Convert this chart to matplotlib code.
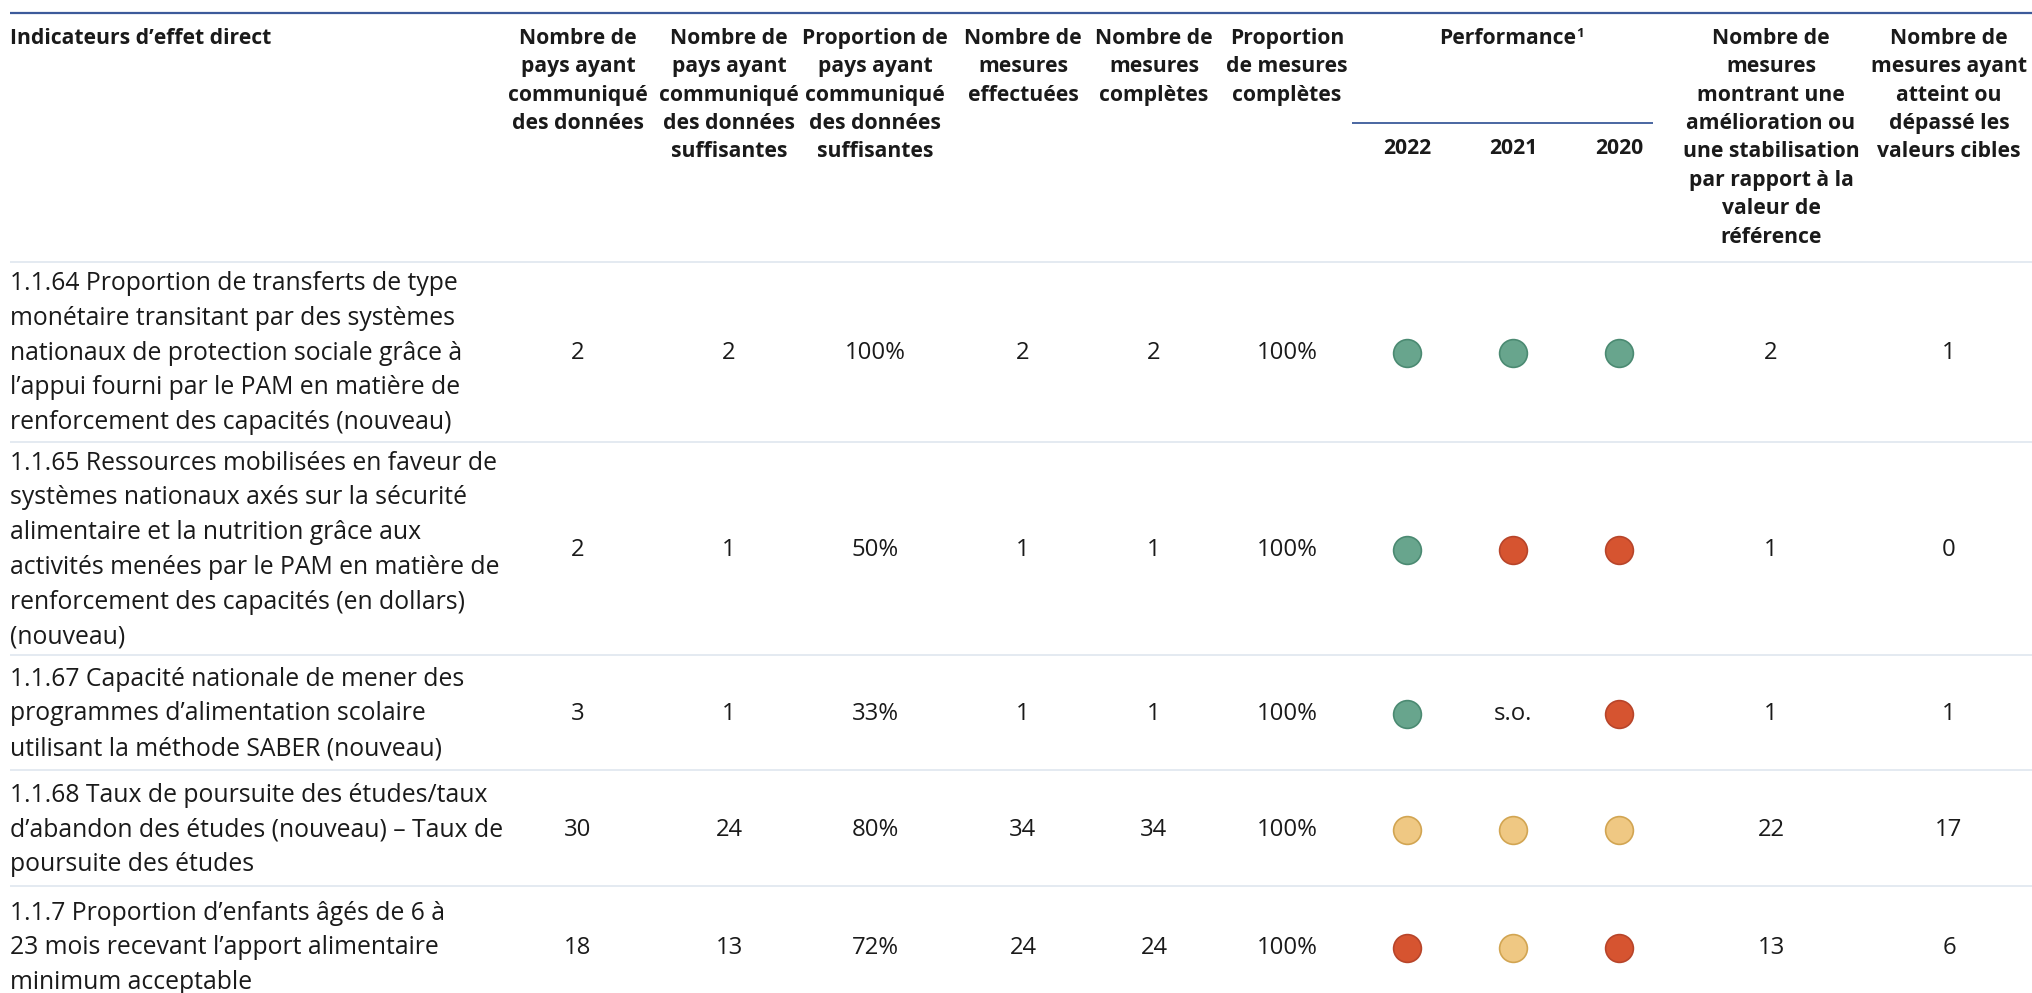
import numpy as np
import matplotlib
matplotlib.use("Agg")
import matplotlib.pyplot as plt

# table content
indicators = [
    "1.1.64 Proportion de transferts de type\nmonétaire transitant par des systèmes\nnationaux de protection sociale grâce à\nl’appui fourni par le PAM en matière de\nrenforcement des capacités (nouveau)",
    "1.1.65 Ressources mobilisées en faveur de\nsystèmes nationaux axés sur la sécurité\nalimentaire et la nutrition grâce aux\nactivités menées par le PAM en matière de\nrenforcement des capacités (en dollars)\n(nouveau)",
    "1.1.67 Capacité nationale de mener des\nprogrammes d’alimentation scolaire\nutilisant la méthode SABER (nouveau)",
    "1.1.68 Taux de poursuite des études/taux\nd’abandon des études (nouveau) – Taux de\npoursuite des études",
    "1.1.7 Proportion d’enfants âgés de 6 à\n23 mois recevant l’apport alimentaire\nminimum acceptable",
]
n_countries = [2, 2, 3, 30, 18]
n_sufficient = [2, 1, 1, 24, 13]
prop_sufficient = ["100%", "50%", "33%", "80%", "72%"]
n_measures = [2, 1, 1, 34, 24]
n_complete = [2, 1, 1, 34, 24]
prop_complete = ["100%", "100%", "100%", "100%", "100%"]
years = ["2022", "2021", "2020"]
perf_2022 = ["vert", "vert", "vert", "jaune", "rouge"]
perf_2021 = ["vert", "rouge", "s.o.", "jaune", "jaune"]
perf_2020 = ["vert", "rouge", "rouge", "jaune", "rouge"]
n_improved = [2, 1, 1, 22, 13]
n_target = [1, 0, 1, 17, 6]

headers = [
    "Nombre de\npays ayant\ncommuniqué\ndes données",
    "Nombre de\npays ayant\ncommuniqué\ndes données\nsuffisantes",
    "Proportion de\npays ayant\ncommuniqué\ndes données\nsuffisantes",
    "Nombre de\nmesures\neffectuées",
    "Nombre de\nmesures\ncomplètes",
    "Proportion\nde mesures\ncomplètes",
]
headers_right = [
    "Nombre de\nmesures\nmontrant une\namélioration ou\nune stabilisation\npar rapport à la\nvaleur de\nréférence",
    "Nombre de\nmesures ayant\natteint ou\ndépassé les\nvaleurs cibles",
]

fill = {"vert": "#68a58d", "rouge": "#d65430", "jaune": "#efc883"}
edge = {"vert": "#4b8a72", "rouge": "#b8452a", "jaune": "#d2a552"}

W, H = 2033, 993
fig = plt.figure(figsize=(W / 100, H / 100), dpi=100)
ax = fig.add_axes([0, 0, 1, 1])
ax.set_xlim(0, W)
ax.set_ylim(H, 0)
ax.axis("off")

font = "Open Sans"
body_fs = 17.8
num_fs = 17.2
head_fs = 15.2
head_ls = 1.46
body_ls = 1.51
txt_col = "#1a1a1a"

# column positions
col_x = [578, 729, 875, 1023, 1154, 1287]
perf_x = [1407, 1513, 1619]
right_x = [1771, 1949]
row_y = [353, 550, 714, 830, 948]
sep_y = [262, 442, 655, 770, 886]

# lines
ax.plot([10, W], [13, 13], color="#3c5a9a", lw=1.6, solid_capstyle="butt")
for y in sep_y:
    ax.plot([10, W], [y, y], color="#dde4ee", lw=1.1, solid_capstyle="butt")
ax.plot([1352, 1653], [123, 123], color="#3c5a9a", lw=1.3, solid_capstyle="butt")

# header
ax.text(10, 28, "Indicateurs d’effet direct", fontsize=head_fs, fontweight="bold",
        family=font, color=txt_col, ha="left", va="top")
for x, h in zip(col_x, headers):
    ax.text(x, 28, h, fontsize=head_fs, fontweight="bold", family=font, color=txt_col,
            ha="center", va="top", multialignment="center", linespacing=head_ls)
for x, h in zip(right_x, headers_right):
    ax.text(x, 28, h, fontsize=head_fs, fontweight="bold", family=font, color=txt_col,
            ha="center", va="top", multialignment="center", linespacing=head_ls)
perf_txt = ax.text(1508, 28, "Performance", fontsize=head_fs, fontweight="bold", family=font,
                   color=txt_col, ha="center", va="top")
ax.annotate("1", xy=(1, 1), xycoords=perf_txt, xytext=(-0.5, 1), textcoords="offset points",
            fontsize=9.5, fontweight="bold", family=font, color=txt_col,
            ha="left", va="top")
for x, yr in zip(perf_x, years):
    ax.text(x, 148, yr, fontsize=head_fs, fontweight="bold", family=font, color=txt_col,
            ha="center", va="center")

# body
num_cols = [n_countries, n_sufficient, prop_sufficient, n_measures, n_complete, prop_complete]
for i, y in enumerate(row_y):
    ax.text(10, y, indicators[i], fontsize=body_fs, family=font, color=txt_col,
            ha="left", va="center", linespacing=body_ls)
    for x, col in zip(col_x, num_cols):
        ax.text(x, y, str(col[i]), fontsize=num_fs, family=font, color=txt_col,
                ha="center", va="center")
    for x, col in zip(right_x, [n_improved, n_target]):
        ax.text(x, y, str(col[i]), fontsize=num_fs, family=font, color=txt_col,
                ha="center", va="center")
    for x, perf in zip(perf_x, [perf_2022, perf_2021, perf_2020]):
        p = perf[i]
        if p in fill:
            ax.scatter([x], [y], s=400, color=fill[p], edgecolors=edge[p],
                       linewidths=1.2, zorder=3)
        else:
            ax.text(x, y, p, fontsize=num_fs, family=font, color=txt_col,
                    ha="center", va="center")

fig.savefig("out.png", dpi=100)
